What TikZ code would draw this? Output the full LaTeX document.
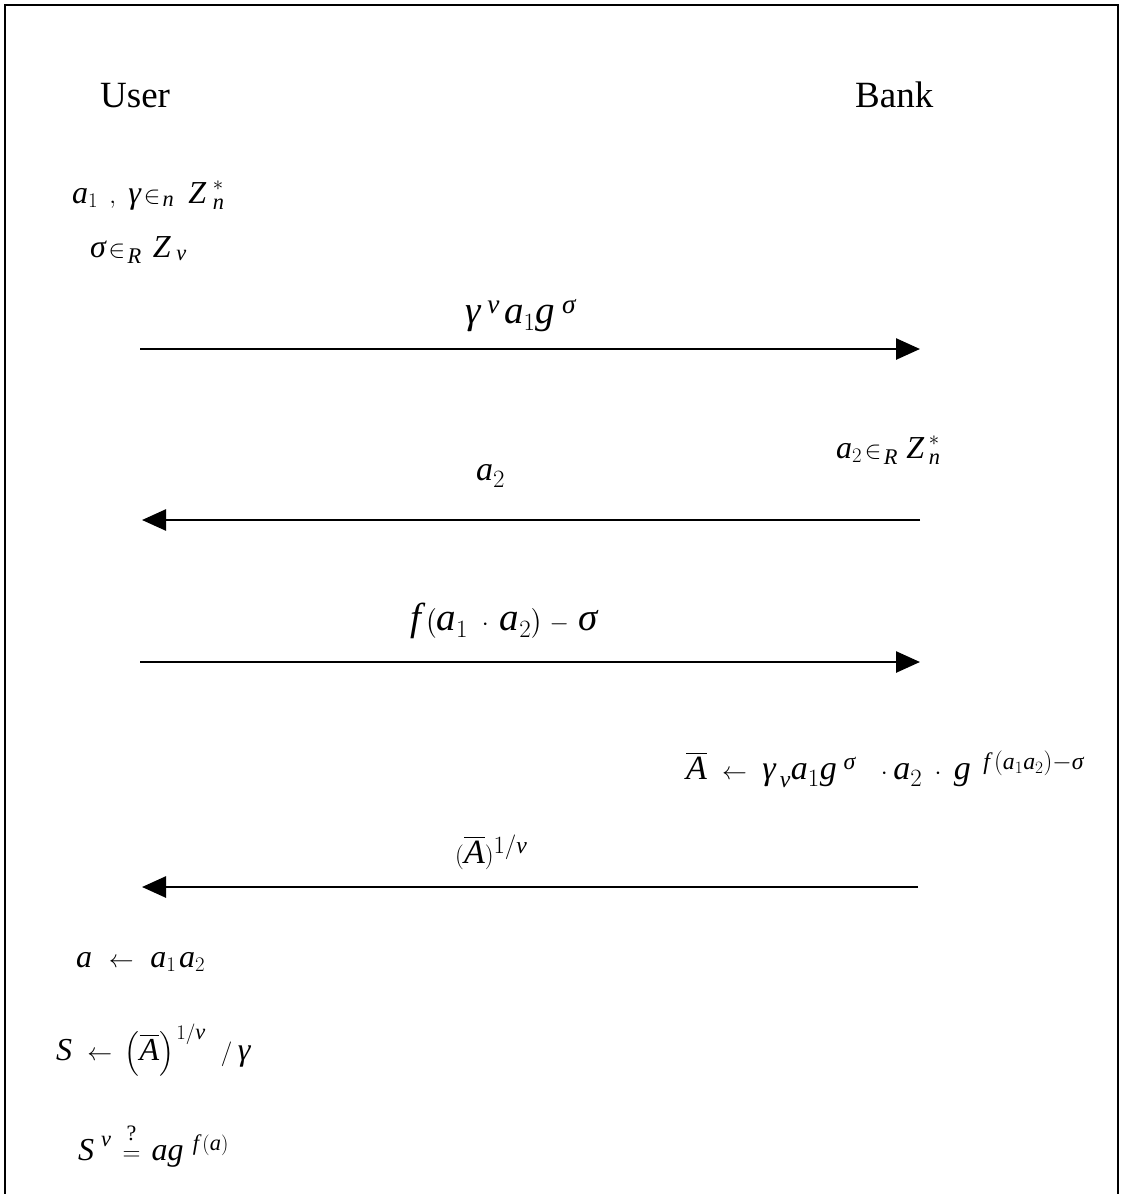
\documentclass[tikz,border=0pt]{standalone}
\usepackage{amsmath}
\usepackage{fontspec}
\setmainfont{Liberation Serif}
\usetikzlibrary{arrows.meta}
\newcommand\mi[1]{\textit{#1}}
\begin{document}
\begin{tikzpicture}[x=1pt,y=-1pt,
  sm/.style={inner sep=0pt, font=\fontsize{32}{38}\selectfont},
  md/.style={inner sep=0pt, font=\fontsize{34}{40}\selectfont},
  lg/.style={inner sep=0pt, font=\fontsize{39}{46}\selectfont},
  party/.style={inner sep=0pt, font=\fontsize{37}{44}\selectfont},
  msg/.style={line width=2.6pt, -{Triangle[length=24pt,width=21pt]}}]
\useasboundingbox (0,0) rectangle (1121,1194);
\draw[line width=2pt] (5,1200) -- (5,5) -- (1118,5) -- (1118,1200);
% parties
\node[party, anchor=base west] (user) at (100,107) {User};
\node[party, anchor=base west] (bank) at (855,107) {Bank};
% user setup
\node[sm, anchor=base west] (u1) at (72,203) {$\mi{a}_{1}\mkern8mu, \mkern6mu\mi{γ}\mkern2mu{\in}_{\mkern2mu\mi{n}}\mkern10mu \mi{Z}^{\mkern6mu *}_{\mkern6mu\mi{n}}$};
\node[sm, anchor=base west] (u2) at (90,257) {$\mi{σ}\mkern2mu{\in}_{\mkern2mu\mi{R}}\mkern8mu \mi{Z}_{\mkern5mu\mi{v}}$};
% message 1
\coordinate (s1) at (140,349);
\coordinate (e1) at (920,349);
\draw[msg] (s1) -- (e1);
\node[lg, anchor=base west] (m1) at (465,323) {$\mi{γ}^{\mkern5mu\mi{v}}\mkern3mu\mi{a}_{1}\mi{g}^{\mkern5mu\mi{σ}}$};
% bank choice
\node[sm, anchor=base west] (b1) at (836,458) {$\mi{a}_{2}\mkern2mu{\in}_{\mkern2mu\mi{R}}\mkern6mu \mi{Z}^{\mkern4mu *}_{\mkern4mu\mi{n}}$};
% message 2
\coordinate (s2) at (920,520);
\coordinate (e2) at (142,520);
\draw[msg] (s2) -- (e2);
\node[md, anchor=base west] (m2) at (476,480) {$\mi{a}_{2}$};
% message 3
\coordinate (s3) at (140,662);
\coordinate (e3) at (920,662);
\draw[msg] (s3) -- (e3);
\node[lg, anchor=base west] (m3) at (410,630) {$\mi{f}\mkern3mu\bigl(\mi{a}_{1}\mkern6mu\cdot\mkern4mu \mi{a}_{2}\bigr)\mkern1mu-\mkern3mu\mi{σ}$};
% bank computation
\node[md, anchor=base west] (b2) at (686,779) {$\overline{\mi{A}}\mkern6mu\leftarrow\mkern6mu \mi{γ}_{\mkern3mu\mi{v}}\mi{a}_{1}\mi{g}^{\mkern5mu\mi{σ}}\mkern14mu\cdot \mi{a}_{2}\mkern5mu\cdot\mkern5mu \mi{g}^{\mkern9mu\mi{f}\mkern3mu(\mi{a}_1\mi{a}_2)-\mi{σ}}$};
% message 4
\coordinate (s4) at (918,887);
\coordinate (e4) at (142,887);
\draw[msg] (s4) -- (e4);
\node[md, anchor=base west] (m4) at (455,863) {$(\overline{\mi{A}})^{1/\mi{v}}$};
% user final
\node[sm, anchor=base west] (f1) at (76,967) {$\mi{a}\mkern7mu\leftarrow\mkern7mu\mi{a}_{1}\mkern2mu\mi{a}_{2}$};
\node[sm, anchor=base west] (f2) at (56,1060) {$\mi{S}\mkern6mu\leftarrow\mkern4mu \left(\overline{\mi{A}}\right)^{\mkern2mu 1/\mi{v}}\mkern8mu/\mkern4mu\mi{γ}$};
\node[sm, anchor=base west] (f3) at (78,1160) {$\mi{S}^{\mkern6mu\mi{v}}\mkern3mu\overset{\raisebox{6pt}{\fontsize{22}{26}\selectfont ?}}{=}\mkern3mu\mi{a}\mi{g}^{\mkern8mu\mi{f}\mkern3mu(\mi{a})}$};
\end{tikzpicture}
\end{document}
